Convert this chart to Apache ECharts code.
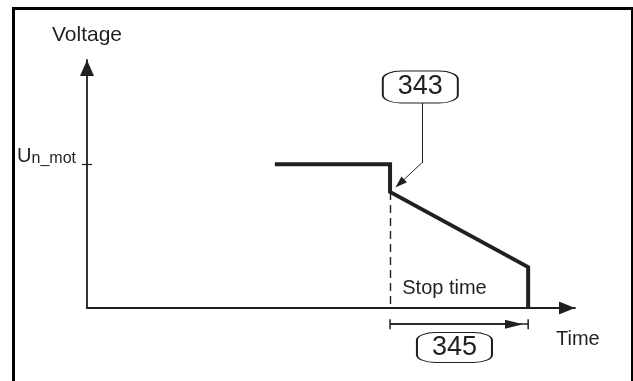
<!DOCTYPE html>
<html>
<head>
<meta charset="utf-8">
<script src="https://cdn.jsdelivr.net/npm/echarts@6/dist/echarts.min.js"></script>
<style>
  html, body { margin: 0; padding: 0; background: #fff; }
  #chart { width: 633px; height: 381px; }
</style>
</head>
<body>
<div id="chart"></div>
<script>
// stop profile: time on x, motor voltage on y (arbitrary units, 0..100)
const timePoints = [38.5, 62.1, 62.1, 90.4, 90.4];
const voltagePoints = [58, 58, 46.8, 16.5, 0];
const nominalVoltage = 58;
const stopStart = 62.1;
const stopEnd = 90.4;
const paramIds = ['343', '345'];

const ink = '#231f20';
const font = '"Liberation Sans", Arial, sans-serif';

const chart = echarts.init(document.getElementById('chart'));

const hiddenAxis = {
  type: 'value',
  axisLine: { show: false },
  axisTick: { show: false },
  axisLabel: { show: false },
  splitLine: { show: false }
};

const option = {
  animation: false,
  graphic: [{
    type: 'rect',
    left: 11, top: 6,
    shape: { width: 619, height: 420 },
    style: { fill: 'none', stroke: '#000', lineWidth: 3 },
    silent: true
  }],
  grid: [
    { left: 87, right: 58, top: 60, bottom: 73, outerBoundsMode: 'none' },
    // strip under the time axis for the stop time dimension
    { left: 87, right: 58, top: 308, bottom: 0, outerBoundsMode: 'none' }
  ],
  xAxis: [{
    type: 'value', min: 0, max: 100,
    axisLine: {
      show: true, symbol: ['none', 'triangle'], symbolSize: [13, 16], symbolOffset: [0, -8],
      lineStyle: { color: ink, width: 1.8 }
    },
    axisTick: { show: false },
    axisLabel: { show: false },
    splitLine: { show: false },
    name: 'Time',
    nameLocation: 'end',
    nameGap: -19,
    nameTextStyle: { color: ink, fontSize: 20, fontFamily: font, verticalAlign: 'top', padding: [21, 0, 0, 0] }
  }, Object.assign({ gridIndex: 1, min: 0, max: 100 }, hiddenAxis)],
  yAxis: [{
    type: 'value', min: 0, max: 100,
    axisLine: {
      show: true, symbol: ['none', 'triangle'], symbolSize: [14, 16], symbolOffset: [0, -8],
      lineStyle: { color: ink, width: 1.8 }
    },
    axisTick: { show: true, customValues: [nominalVoltage], length: 5, lineStyle: { color: ink, width: 1.2 } },
    axisLabel: {
      show: true, customValues: [nominalVoltage], margin: 11,
      formatter: () => '{u|U}{s|n_mot}',
      padding: [0, 0, 16, 0],
      rich: {
        u: { fontSize: 20, fontFamily: font, color: ink },
        s: { fontSize: 16, fontFamily: font, color: ink, padding: [5, 0, 0, 0] }
      }
    },
    splitLine: { show: false },
    name: 'Voltage',
    nameLocation: 'end',
    nameGap: 14,
    nameTextStyle: { color: ink, fontSize: 21, fontFamily: font }
  }, {
    type: 'value', min: 0, max: 100, position: 'left', offset: 0,
    axisLine: { show: false },
    axisTick: { show: true, inside: true, customValues: [nominalVoltage], length: 5, lineStyle: { color: ink, width: 1.2 } },
    axisLabel: { show: false },
    splitLine: { show: false }
  }, Object.assign({ gridIndex: 1, min: -29.4, max: 0 }, hiddenAxis)],
  series: [{
    type: 'line',
    data: timePoints.map((t, i) => [t, voltagePoints[i]]),
    symbol: 'none',
    clip: false,
    z: 5,
    lineStyle: { color: ink, width: 4, join: 'miter' },
    markLine: {
      silent: true,
      symbol: 'none',
      label: { show: false },
      lineStyle: { color: ink, width: 1, type: 'solid' },
      data: [
        // dashed marker at stop start
        [{ coord: [stopStart, voltagePoints[2]], lineStyle: { type: [8, 5], width: 1.4 } },
         { coord: [stopStart, 0] }],
        // leader from 343 box to knee
        [{ coord: [68.6, 82.7] }, { coord: [68.6, 58.5] }],
        [{ coord: [68.6, 58.5] },
         { coord: [64.1, 50.2], symbol: 'triangle', symbolSize: [8, 12] }]
      ]
    },
    markPoint: {
      silent: true,
      data: [{
        coord: [68.3, 89.1], value: paramIds[0],
        symbol: 'roundRect', symbolSize: [75, 32],
        itemStyle: { color: '#fff', borderColor: ink, borderWidth: 1.3 },
        label: { show: true, position: 'inside', formatter: paramIds[0], color: ink, fontSize: 27, fontFamily: font }
      }, {
        coord: [64.5, 7.8], value: 'Stop time',
        symbol: 'circle', symbolSize: 1,
        itemStyle: { color: 'rgba(0,0,0,0)' },
        label: { show: true, position: 'right', distance: 0, formatter: 'Stop time', color: ink, fontSize: 20, fontFamily: font }
      }]
    }
  }, {
    type: 'line',
    xAxisIndex: 1,
    yAxisIndex: 2,
    data: [[stopStart, 0]],
    symbol: 'none',
    lineStyle: { width: 0 },
    markLine: {
      silent: true,
      symbol: 'none',
      label: { show: false },
      lineStyle: { color: ink, width: 1.5, type: 'solid' },
      data: [
        [{ coord: [stopStart, -6.5], symbol: 'rect', symbolSize: [10, 1.5] },
         { coord: [stopEnd, -6.5], symbol: 'rect', symbolSize: [10, 1.5] }],
        [{ coord: [stopStart, -6.5] },
         { coord: [87.5, -6.5], symbol: 'triangle', symbolSize: [9, 18] }]
      ]
    },
    markPoint: {
      silent: true,
      data: [{
        coord: [75.3, -15.9], value: paramIds[1],
        symbol: 'roundRect', symbolSize: [75, 30],
        itemStyle: { color: '#fff', borderColor: ink, borderWidth: 1.3 },
        label: { show: true, position: 'inside', formatter: paramIds[1], color: ink, fontSize: 27, fontFamily: font }
      }]
    }
  }]
};

chart.setOption(option);
</script>
</body>
</html>
